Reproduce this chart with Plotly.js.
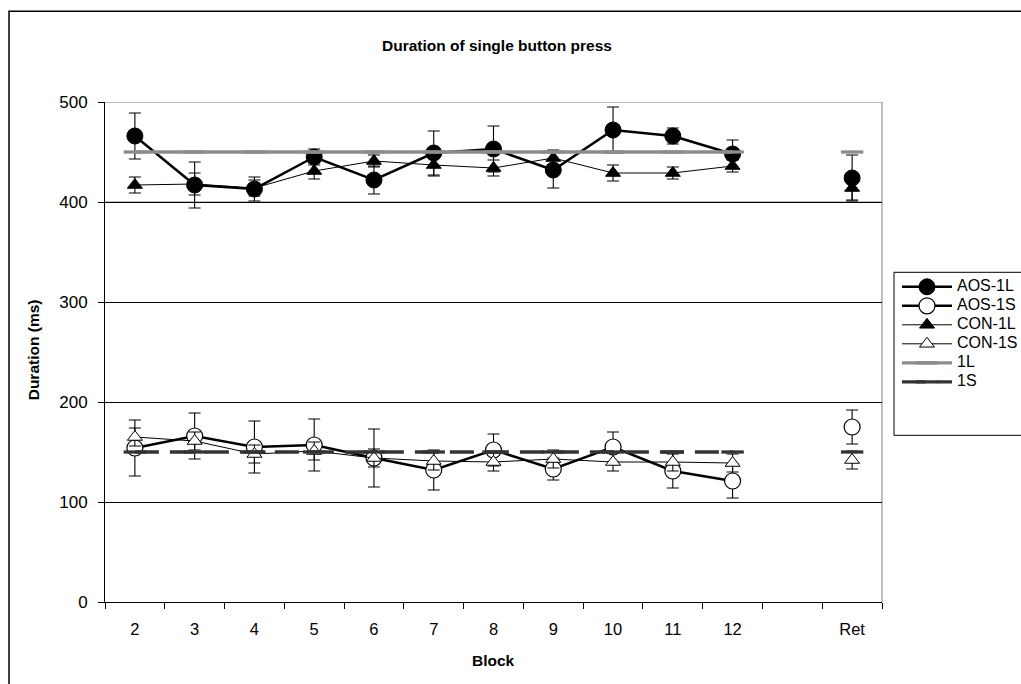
<!DOCTYPE html>
<html>
<head>
<meta charset="utf-8">
<script src="https://cdn.plot.ly/plotly-3.0.1.min.js"></script>
<style>html,body{margin:0;padding:0;background:#fff;}#chart{width:1021px;height:684px;}</style>
</head>
<body>
<div id="chart"></div>
<script>
// ---- data ----
const blocks = ['2','3','4','5','6','7','8','9','10','11','12','','Ret'];
const seriesNames = ['AOS-1L', 'AOS-1S', 'CON-1L', 'CON-1S', '1L', '1S'];
const aos1L    = [466, 417, 413, 445, 422, 449, 453, 432, 472, 466, 448, null, 424];
const aos1LErr = [23, 23, 12, 8, 14, 22, 23, 18, 23, 8, 14, null, 23];
const aos1S    = [154, 166, 155, 157, 144, 132, 152, 133, 155, 131, 121, null, 175];
const aos1SErr = [28, 23, 26, 26, 29, 20, 16, 11, 15, 17, 17, null, 17];
const con1L    = [417, 418, 414, 431, 441, 437, 434, 444, 429, 429, 436, null, 414];
const con1LErr = [8, 11, 8, 8, 6, 11, 8, 8, 8, 6, 6, null, 12];
const con1S    = [165, 161, 148, 151, 144, 141, 140, 143, 140, 140, 139, null, 142];
const con1SErr = [9, 9, 9, 9, 9, 9, 9, 9, 9, 9, 9, null, 9];
const ref1L    = [450, 450, 450, 450, 450, 450, 450, 450, 450, 450, 450, null, 450];
const ref1S    = [150, 150, 150, 150, 150, 150, 150, 150, 150, 150, 150, null, 150];
const yTicks   = [0, 100, 200, 300, 400, 500];

const xIdx = blocks.map((_, i) => i);
const bounds = blocks.map((_, i) => i - 0.5).concat([blocks.length - 0.5]);
const FONT = 'Liberation Sans, Arial, sans-serif';
const legName = n => '<span style="font-size:16px">' + n + '</span>';

function err(arr) {
  return {type: 'data', array: arr, visible: true, color: '#000', thickness: 1.1, width: 6};
}

const traces = [
  {name: legName(seriesNames[0]), x: xIdx, y: aos1L, mode: 'lines+markers', connectgaps: false,
   line: {color: '#000', width: 2.5},
   marker: {symbol: 'circle', size: 16, color: '#000', line: {color: '#000', width: 1}},
   error_y: err(aos1LErr)},
  {name: legName(seriesNames[1]), x: xIdx, y: aos1S, mode: 'lines+markers', connectgaps: false,
   line: {color: '#000', width: 2.5},
   marker: {symbol: 'circle', size: 16, color: '#fff', line: {color: '#000', width: 1.2}},
   error_y: err(aos1SErr)},
  {name: legName(seriesNames[2]), x: xIdx, y: con1L, mode: 'lines+markers', connectgaps: false,
   line: {color: '#000', width: 1},
   marker: {symbol: 'triangle-up', size: 13, color: '#000', line: {color: '#000', width: 1}},
   error_y: err(con1LErr)},
  {name: legName(seriesNames[3]), x: xIdx, y: con1S, mode: 'lines+markers', connectgaps: false,
   line: {color: '#000', width: 1},
   marker: {symbol: 'triangle-up', size: 13, color: '#fff', line: {color: '#000', width: 1}},
   error_y: err(con1SErr)},
  {name: legName(seriesNames[4]), x: xIdx, y: ref1L, mode: 'lines+markers', connectgaps: false,
   line: {color: '#8c8c8c', width: 3.3},
   marker: {symbol: 'line-ew', size: 16, color: '#8c8c8c', line: {color: '#8c8c8c', width: 3.3}}},
  {name: legName(seriesNames[5]), x: xIdx, y: ref1S, mode: 'lines+markers', connectgaps: false,
   line: {color: '#333', width: 3.3, dash: '24px,11px'},
   marker: {symbol: 'line-ew', size: 16, color: '#333', line: {color: '#333', width: 3.3}}}
];

const L = 105, R = 882, T = 101.7, B = 601.7;
const W = 1021, H = 684;
const px = v => (v - L) / (R - L);
const py = v => (B - v) / (B - T);

const layout = {
  width: W, height: H,
  margin: {l: L, r: W - R, t: T, b: H - B, pad: 0, autoexpand: false},
  paper_bgcolor: '#fff', plot_bgcolor: '#fff',
  font: {family: FONT, color: '#000', size: 16},
  showlegend: true,
  legend: {x: px(897), y: py(272), xanchor: 'left', yanchor: 'top',
           font: {family: FONT, size: 12, color: '#000'},
           bgcolor: 'rgba(0,0,0,0)', borderwidth: 0, itemwidth: 50, tracegroupgap: 0},
  xaxis: {range: [-0.5, blocks.length - 0.5], tickmode: 'array', tickvals: xIdx, ticktext: blocks,
          ticks: '', showline: true, linecolor: '#000', linewidth: 1, showgrid: false, zeroline: false,
          tickfont: {family: FONT, size: 16.5, color: '#000'}, ticklabelstandoff: 12,
          minor: {tickmode: 'array', tickvals: bounds, ticks: 'outside', ticklen: 6,
                  tickcolor: '#000', tickwidth: 1, showgrid: false},
          fixedrange: true},
  yaxis: {range: [0, 500], tickmode: 'array', tickvals: yTicks,
          ticks: 'outside', ticklen: 6, tickcolor: '#000', showline: true, linecolor: '#000', linewidth: 1,
          showgrid: true, gridcolor: '#000', gridwidth: 1, zeroline: false,
          tickfont: {family: FONT, size: 17, color: '#000'}, ticklabelstandoff: 7,
          fixedrange: true},
  shapes: [
    {type: 'line', xref: 'paper', yref: 'y', x0: 0, x1: 1, y0: 400, y1: 400, line: {color: '#808080', width: 1}, layer: 'below'},
    {type: 'line', xref: 'paper', yref: 'y', x0: 0, x1: 1, y0: 500, y1: 500, line: {color: '#808080', width: 1}, layer: 'below'},
    {type: 'line', xref: 'paper', yref: 'paper', x0: 1, x1: 1, y0: 0, y1: 1, line: {color: '#808080', width: 1}, layer: 'below'},
    {type: 'rect', xref: 'paper', yref: 'paper', x0: px(9), x1: px(1030), y0: py(695), y1: py(11),
     line: {color: '#000', width: 1.5}, fillcolor: 'rgba(0,0,0,0)'},
    {type: 'rect', xref: 'paper', yref: 'paper', x0: px(894), x1: px(1030), y0: py(435), y1: py(272),
     line: {color: '#000', width: 1}, fillcolor: 'rgba(0,0,0,0)'}
  ],
  annotations: [
    {text: '<b>Duration of single button press</b>', xref: 'paper', yref: 'paper', x: px(497), y: py(45),
     xanchor: 'center', yanchor: 'middle', showarrow: false,
     font: {family: FONT, size: 15.5, color: '#000'}},
    {text: '<b>Duration (ms)</b>', xref: 'paper', yref: 'paper', x: px(33), y: py(350), textangle: -90,
     xanchor: 'center', yanchor: 'middle', showarrow: false,
     font: {family: FONT, size: 15.5, color: '#000'}},
    {text: '<b>Block</b>', xref: 'paper', yref: 'paper', x: px(493), y: py(660),
     xanchor: 'center', yanchor: 'middle', showarrow: false,
     font: {family: FONT, size: 15.5, color: '#000'}}
  ]
};

Plotly.newPlot('chart', traces, layout, {displayModeBar: false, staticPlot: true});
</script>
</body>
</html>
